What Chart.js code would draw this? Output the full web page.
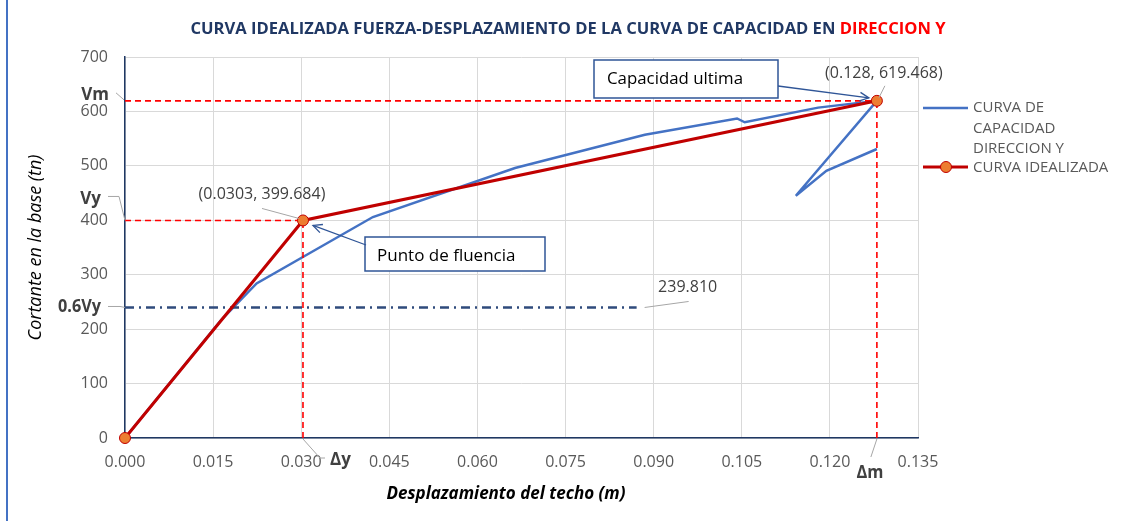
<!DOCTYPE html>
<html>
<head>
<meta charset="utf-8">
<script src="https://cdn.jsdelivr.net/npm/chart.js@4.4.1/dist/chart.umd.min.js"></script>
<style>
  html, body { margin: 0; padding: 0; background: #fff; }
  #wrap { position: relative; width: 1125px; height: 521px; }
</style>
</head>
<body>
<div id="wrap"><canvas id="chart" width="1125" height="521"></canvas></div>
<script>
// Capacity curve (pushover): roof displacement (m) vs base shear (tn)
const capDisp  = [0, 0.0164, 0.0224, 0.0422, 0.0664, 0.0885, 0.1042, 0.1055, 0.1180, 0.1280, 0.1142, 0.1194, 0.1280];
const capShear = [0, 217, 284, 406, 496, 557, 587, 580, 607, 619.5, 445, 491, 531];

// Bilinear idealized curve: origin, yield point, ultimate point
const idealDisp  = [0, 0.0303, 0.128];
const idealShear = [0, 399.684, 619.468];

// 0.6·Vy reference line
const shear06Vy  = 239.810;
const line06Disp = [0, 0.0871];

const xTicks = [0, 0.015, 0.030, 0.045, 0.060, 0.075, 0.090, 0.105, 0.120, 0.135];
const yTicks = [0, 100, 200, 300, 400, 500, 600, 700];

const FONT = '"Open Sans", "Liberation Sans", sans-serif';
const TXT = '#595959';

const pts = (xs, ys) => xs.map((v, i) => ({ x: v, y: ys[i] }));
const [dy, dm] = [idealDisp[1], idealDisp[2]];
const [vy, vm] = [idealShear[1], idealShear[2]];

// text squeezed horizontally when wider than the room it has
function fitText(ctx, str, x, y, maxW, align) {
  const w = ctx.measureText(str).width;
  const s = Math.min(1, maxW / w);
  const ww = w * s;
  let left = x;
  if (align === 'center') left = x - ww / 2;
  else if (align === 'right') left = x - ww;
  ctx.save();
  ctx.translate(left, y);
  ctx.scale(s, 1);
  ctx.textAlign = 'left';
  ctx.fillText(str, 0, 0);
  ctx.restore();
}

function polyline(ctx, list) {
  ctx.beginPath();
  ctx.moveTo(list[0][0], list[0][1]);
  for (let i = 1; i < list.length; i++) ctx.lineTo(list[i][0], list[i][1]);
  ctx.stroke();
}

function arrow(ctx, x1, y1, x2, y2) {
  const ang = Math.atan2(y2 - y1, x2 - x1);
  const L = 10, spread = 0.45;
  polyline(ctx, [[x1, y1], [x2, y2]]);
  polyline(ctx, [
    [x2 - L * Math.cos(ang - spread), y2 - L * Math.sin(ang - spread)],
    [x2, y2],
    [x2 - L * Math.cos(ang + spread), y2 - L * Math.sin(ang + spread)]
  ]);
}

const overlay = {
  id: 'overlay',
  afterDraw(chart) {
    const { ctx, scales: { x, y }, chartArea: a } = chart;
    const Y = { x: x.getPixelForValue(dy), y: y.getPixelForValue(vy) };
    const U = { x: x.getPixelForValue(dm), y: y.getPixelForValue(vm) };
    const E = { x: x.getPixelForValue(line06Disp[1]), y: y.getPixelForValue(shear06Vy) };

    ctx.save();
    ctx.textBaseline = 'middle';

    // left frame edge
    ctx.fillStyle = '#4472C4';
    ctx.fillRect(6, 0, 2, 521);

    // title, last words in red, stretched across its full span
    ctx.font = 'bold 16px ' + FONT;
    const p1 = 'CURVA IDEALIZADA FUERZA-DESPLAZAMIENTO DE LA CURVA DE CAPACIDAD EN ';
    const p2 = 'DIRECCION Y';
    const w1 = ctx.measureText(p1).width, w2 = ctx.measureText(p2).width;
    const s = 755 / (w1 + w2);
    ctx.save();
    ctx.translate(568 - (w1 + w2) * s / 2, 29);
    ctx.scale(s, 1);
    ctx.textAlign = 'left';
    ctx.fillStyle = '#203864';
    ctx.fillText(p1, 0, 0);
    ctx.fillStyle = '#FF0000';
    ctx.fillText(p2, w1, 0);
    ctx.restore();

    // axis titles
    ctx.fillStyle = '#000';
    ctx.font = 'italic 18px ' + FONT;
    ctx.save();
    ctx.translate(36, (a.top + a.bottom) / 2);
    ctx.rotate(-Math.PI / 2);
    fitText(ctx, 'Cortante en la base (tn)', 0, 0, 228, 'center');
    ctx.restore();
    ctx.font = 'bold italic 17px ' + FONT;
    fitText(ctx, 'Desplazamiento del techo (m)', 506, 494, 240, 'center');

    // leader lines for the labels
    ctx.strokeStyle = '#A6A6A6';
    ctx.lineWidth = 1;
    polyline(ctx, [[Y.x - 41, Y.y - 12], [Y.x - 4, Y.y - 2]]);
    polyline(ctx, [[U.x + 8, U.y - 15], [U.x + 2, U.y - 3]]);
    polyline(ctx, [[E.x + 8, E.y], [E.x + 52, E.y - 6]]);
    polyline(ctx, [[a.left - 9, U.y - 8], [a.left - 1, U.y - 1]]);
    polyline(ctx, [[a.left - 17, Y.y - 24], [a.left - 6, Y.y - 24], [a.left, Y.y]]);
    polyline(ctx, [[a.left - 17, E.y - 1], [a.left - 5, E.y - 1], [a.left, E.y]]);
    polyline(ctx, [[Y.x, a.bottom + 1], [Y.x + 17, a.bottom + 20], [Y.x + 22, a.bottom + 20]]);
    polyline(ctx, [[U.x, a.bottom + 1], [U.x - 6, a.bottom + 19]]);

    // value labels
    ctx.fillStyle = '#404040';
    ctx.font = '16px ' + FONT;
    fitText(ctx, '(0.0303, 399.684)', Y.x - 41, Y.y - 26, 131, 'center');
    fitText(ctx, '(0.128, 619.468)', U.x + 7, U.y - 27, 123, 'center');
    fitText(ctx, '239.810', E.x + 51, E.y - 20, 60, 'center');

    // Vm / Vy / Δy / Δm markers
    ctx.font = 'bold 17px ' + FONT;
    fitText(ctx, 'Vm', a.left - 16, U.y - 6, 28, 'right');
    fitText(ctx, 'Vy', a.left - 24, Y.y - 21, 22, 'right');
    fitText(ctx, '0.6Vy', a.left - 24, E.y, 43, 'right');
    fitText(ctx, 'Δy', Y.x + 27, a.bottom + 22, 24, 'left');
    fitText(ctx, 'Δm', U.x - 7, a.bottom + 35, 27, 'center');

    // callout boxes with arrows
    ctx.lineWidth = 1.5;
    ctx.strokeStyle = '#2F5597';
    ctx.fillStyle = '#fff';
    ctx.fillRect(594, 60, 184, 38);
    ctx.strokeRect(594, 60, 184, 38);
    ctx.fillRect(365, 237, 180, 34);
    ctx.strokeRect(365, 237, 180, 34);
    ctx.lineWidth = 1.3;
    arrow(ctx, 778, 86, U.x - 8, U.y - 3);
    arrow(ctx, 366, 245, Y.x + 10, Y.y + 5);
    ctx.fillStyle = '#000';
    ctx.font = '17px ' + FONT;
    fitText(ctx, 'Capacidad ultima', 607, 79, 136, 'left');
    fitText(ctx, 'Punto de fluencia', 377, 256, 139, 'left');

    // legend
    ctx.lineWidth = 2.5;
    ctx.strokeStyle = '#4472C4';
    polyline(ctx, [[923, 108], [968, 108]]);
    ctx.lineWidth = 3;
    ctx.strokeStyle = '#C00000';
    polyline(ctx, [[923, 167], [968, 167]]);
    ctx.beginPath();
    ctx.arc(946, 167, 5.5, 0, Math.PI * 2);
    ctx.fillStyle = '#ED7D31';
    ctx.fill();
    ctx.lineWidth = 1;
    ctx.stroke();
    ctx.fillStyle = TXT;
    ctx.font = '15px ' + FONT;
    fitText(ctx, 'CURVA DE', 973, 108, 76, 'left');
    fitText(ctx, 'CAPACIDAD', 973, 129, 84, 'left');
    fitText(ctx, 'DIRECCION Y', 973, 149, 92, 'left');
    fitText(ctx, 'CURVA IDEALIZADA', 973, 168, 139, 'left');

    ctx.restore();
  }
};

const dashRed = {
  borderColor: '#FF0000', borderWidth: 1.6, borderDash: [6, 4],
  pointRadius: 0, showLine: true, order: 1
};

new Chart(document.getElementById('chart'), {
  type: 'scatter',
  data: {
    datasets: [
      {
        label: 'CURVA IDEALIZADA',
        data: pts(idealDisp, idealShear),
        showLine: true, borderColor: '#C00000', borderWidth: 3,
        pointRadius: 5.5, pointBackgroundColor: '#ED7D31',
        pointBorderColor: '#C00000', pointBorderWidth: 1, order: 0, clip: 10
      },
      { ...dashRed, data: pts([0, dm], [vm, vm]) },
      { ...dashRed, data: pts([dm, dm], [0, vm]) },
      { ...dashRed, data: pts([0, dy], [vy, vy]) },
      { ...dashRed, data: pts([dy, dy], [0, vy]) },
      {
        data: pts(line06Disp, [shear06Vy, shear06Vy]),
        showLine: true, borderColor: '#2F4B7C', borderWidth: 2.5,
        borderDash: [9, 5, 2, 5], pointRadius: 0, order: 1
      },
      {
        label: 'CURVA DE CAPACIDAD DIRECCION Y',
        data: pts(capDisp, capShear),
        showLine: true, borderColor: '#4472C4', borderWidth: 2.5,
        pointRadius: 0, tension: 0, order: 2
      }
    ]
  },
  options: {
    responsive: false,
    animation: false,
    events: [],
    layout: { padding: { top: 57, right: 207, left: 0, bottom: 0 } },
    plugins: { legend: { display: false }, tooltip: { enabled: false }, title: { display: false } },
    scales: {
      x: {
        type: 'linear', min: 0, max: 0.135,
        afterBuildTicks: s => { s.ticks = xTicks.map(v => ({ value: v })); },
        afterFit: s => { s.height = 83; },
        ticks: { callback: v => v.toFixed(3), color: TXT, font: { family: FONT, size: 16 }, padding: 15, maxRotation: 0, autoSkip: false },
        grid: { color: '#D9D9D9', lineWidth: 1, drawTicks: false },
        border: { color: '#1F3864', width: 1.5 }
      },
      y: {
        type: 'linear', min: 0, max: 700,
        afterBuildTicks: s => { s.ticks = yTicks.map(v => ({ value: v })); },
        afterFit: s => { s.width = 125; },
        ticks: { color: TXT, font: { family: FONT, size: 16 }, padding: 17 },
        grid: { color: '#D9D9D9', lineWidth: 1, drawTicks: false },
        border: { color: '#1F3864', width: 1.5 }
      }
    }
  },
  plugins: [overlay]
});
</script>
</body>
</html>
